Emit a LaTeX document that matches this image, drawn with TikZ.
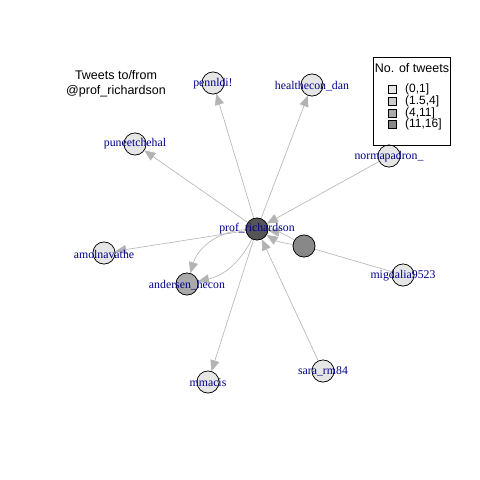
\documentclass[tikz,border=0pt]{standalone}
\usepackage{fontspec}
\setmainfont{Liberation Serif}
\newfontfamily\lsans{Liberation Sans}
\usetikzlibrary{arrows.meta}
\definecolor{edgegray}{HTML}{B3B3B3}
\definecolor{lab}{HTML}{00008B}
\definecolor{c1}{HTML}{E6E6E6}
\definecolor{c2}{HTML}{CCCCCC}
\definecolor{c3}{HTML}{AAAAAA}
\definecolor{c4}{HTML}{888888}
\definecolor{c5}{HTML}{555555}
\begin{document}
\begin{tikzpicture}[x=1pt,y=-1pt,
  vtx/.style={circle,draw=black,line width=0.6pt,minimum size=22pt,inner sep=0pt},
  lbl/.style={text=lab,font=\fontsize{11.8}{12}\selectfont,inner sep=0pt},
  edge/.style={draw=edgegray,line width=0.6pt,-{Triangle[length=11pt,width=9pt]}},
  plain/.style={draw=edgegray,line width=0.6pt},
  leg/.style={draw=black,line width=0.6pt,minimum size=8pt,inner sep=0pt},
  legt/.style={font=\lsans\fontsize{12}{12}\selectfont,anchor=west,inner sep=0pt}]
\useasboundingbox (0,0) rectangle (480,480);
\fill[white] (0,0) rectangle (480,480);
% vertices
\node[vtx,fill=c5] (prof) at (257,229) {};
\node[vtx,fill=c4] (u) at (304,246) {};
\node[vtx,fill=c3] (and) at (187,284) {};
\node[vtx,fill=c1] (amol) at (104,253) {};
\node[vtx,fill=c1] (penn) at (213,83) {};
\node[vtx,fill=c1] (health) at (312,85) {};
\node[vtx,fill=c1] (pun) at (135,144) {};
\node[vtx,fill=c1] (norma) at (389,156) {};
\node[vtx,fill=c1] (mig) at (403,275) {};
\node[vtx,fill=c1] (sara) at (323,371) {};
\node[vtx,fill=c1] (mma) at (208,382) {};
% edges
\path[edge] (prof) -- (penn);
\path[edge] (prof) -- (health);
\path[edge] (prof) -- (pun);
\path[edge] (norma) -- (prof);
\path[edge] (prof) -- (amol);
\path[edge] (prof) to[bend right=35] (and);
\path[edge] (prof) to[bend left=25] (and);
\path[edge] (u) to[bend left=12] (prof);
\path[edge] (u) to[bend right=12] (prof);
\path[plain] (mig) -- (u);
\path[edge] (sara) -- (prof);
\path[edge] (prof) -- (mma);
% redraw vertices on top of edges
\node[vtx,fill=c5] at (prof) {};
\node[vtx,fill=c4] at (u) {};
\node[vtx,fill=c3] at (and) {};
\node[vtx,fill=c1] at (amol) {};
\node[vtx,fill=c1] at (penn) {};
\node[vtx,fill=c1] at (health) {};
\node[vtx,fill=c1] at (pun) {};
\node[vtx,fill=c1] at (norma) {};
\node[vtx,fill=c1] at (mig) {};
\node[vtx,fill=c1] at (sara) {};
\node[vtx,fill=c1] at (mma) {};
% labels
\node[lbl] (lprof) at (257,229) {prof\_richardson};
\node[lbl] (land) at (187,285) {andersen\_hecon};
\node[lbl] (lamol) at (104,254) {amolnavathe};
\node[lbl] (lpenn) at (213,84) {pennldi!};
\node[lbl] (lhealth) at (312,86) {healthecon\_dan};
\node[lbl] (lpun) at (135,144) {puneetchehal};
\node[lbl] (lnorma) at (389,157) {normapadron\_};
\node[lbl] (lmig) at (403,276) {migdalia9523};
\node[lbl] (lsara) at (323,371) {sara\_rm84};
\node[lbl] (lmma) at (208,383) {mmacis};
% title
\node[font=\lsans\fontsize{12.5}{14.5}\selectfont,align=center] (title) at (116,84) {Tweets to/from\\@prof\_richardson};
% legend
\draw[line width=0.6pt] (373,57) rectangle (450,145);
\node[font=\lsans\fontsize{12.5}{12}\selectfont] (ltitle) at (412,68) {No. of tweets};
\node[leg,fill=c1] (s1) at (392,89) {};
\node[leg,fill=c2] (s2) at (392,101) {};
\node[leg,fill=c3] (s3) at (392,113) {};
\node[leg,fill=c4] (s4) at (392,124) {};
\node[legt] (t1) at (405,89) {(0,1]};
\node[legt] (t2) at (405,101) {(1.5,4]};
\node[legt] (t3) at (405,113) {(4,11]};
\node[legt] (t4) at (405,124) {(11,16]};
\end{tikzpicture}
\end{document}
